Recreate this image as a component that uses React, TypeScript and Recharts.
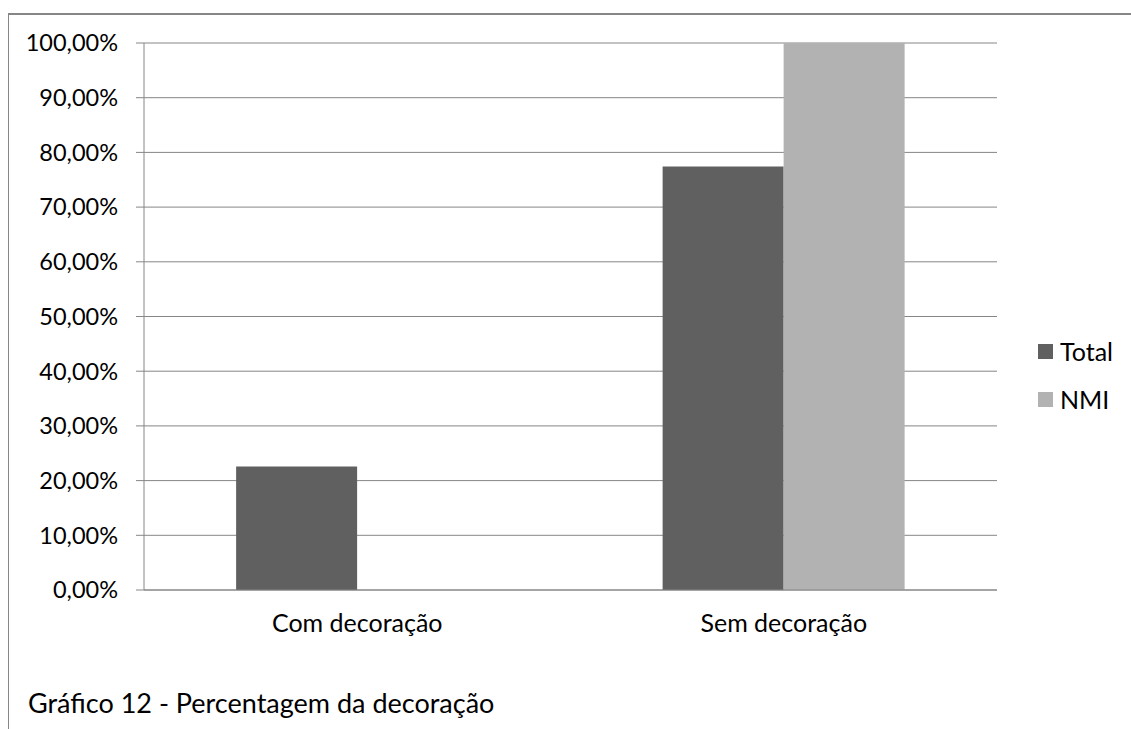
import React from 'react';
import { BarChart, Bar, XAxis, YAxis, CartesianGrid } from 'recharts';

const categories = ['Com decoração', 'Sem decoração'];
const totalValues = [0.2258, 0.7742];
const nmiValues = [0, 1];
const yTicks = [0, 0.1, 0.2, 0.3, 0.4, 0.5, 0.6, 0.7, 0.8, 0.9, 1];
const seriesNames = ['Total', 'NMI'];
const seriesColors = ['#606060', '#b2b2b2'];
const title = 'Gráfico 12 - Percentagem da decoração';

const FONT = 'Lato, sans-serif';
const AXIS = '#868686';

const data = categories.map((c, i) => ({
  name: c,
  total: totalValues[i],
  nmi: nmiValues[i],
}));

function pct(v: number): string {
  return `${(v * 100).toFixed(2).replace('.', ',')}%`;
}

export default function App() {
  return (
    <div
      style={{
        position: 'absolute',
        left: 0,
        top: 0,
        width: 1131,
        height: 729,
        overflow: 'hidden',
        background: '#fff',
        fontFamily: FONT,
      }}
    >
      <div
        style={{
          position: 'absolute',
          left: 8,
          top: 13,
          width: 1300,
          height: 900,
          borderTop: `2px solid ${AXIS}`,
          borderLeft: `1px solid ${AXIS}`,
        }}
      />
      <div style={{ position: 'absolute', left: 0, top: 0 }}>
        <BarChart
          width={1131}
          height={729}
          data={data}
          margin={{ top: 43, right: 134, bottom: 99, left: 0 }}
          barCategoryGap="21.6%"
          barGap={0}
        >
          <CartesianGrid vertical={false} stroke={AXIS} strokeWidth={1} />
          <XAxis
            xAxisId="edge"
            type="number"
            domain={[0, 2]}
            ticks={[0, 1, 2]}
            height={0}
            axisLine={false}
            tickLine={{ stroke: AXIS }}
            tickSize={8}
            tickFormatter={() => ''}
          />
          <XAxis
            dataKey="name"
            height={40}
            axisLine={{ stroke: AXIS }}
            tickLine={false}
            tickSize={8}
            tickMargin={16}
            tick={{ fill: '#000', fontSize: 25, fontFamily: FONT }}
          />
          <YAxis
            width={144}
            domain={[0, 1]}
            ticks={yTicks}
            tickFormatter={pct}
            axisLine={{ stroke: AXIS }}
            tickLine={{ stroke: AXIS }}
            tickSize={8}
            tickMargin={18}
            tick={{ fill: '#000', fontSize: 23.5, fontFamily: FONT }}
          />
          <Bar dataKey="total" fill={seriesColors[0]} isAnimationActive={false} />
          <Bar dataKey="nmi" fill={seriesColors[1]} isAnimationActive={false} />
        </BarChart>
      </div>
      <div style={{ position: 'absolute', left: 1038, top: 336 }}>
        {seriesNames.map((n, i) => (
          <div
            key={n}
            style={{ display: 'flex', alignItems: 'center', height: 30, marginBottom: 18 }}
          >
            <span
              style={{
                width: 15,
                height: 15,
                background: seriesColors[i],
                marginRight: 7,
                display: 'inline-block',
              }}
            />
            <span style={{ fontSize: 25, color: '#000' }}>{n}</span>
          </div>
        ))}
      </div>
      <div
        style={{
          position: 'absolute',
          left: 28,
          top: 686,
          fontSize: 27,
          color: '#000',
          whiteSpace: 'nowrap',
        }}
      >
        {title}
      </div>
    </div>
  );
}
